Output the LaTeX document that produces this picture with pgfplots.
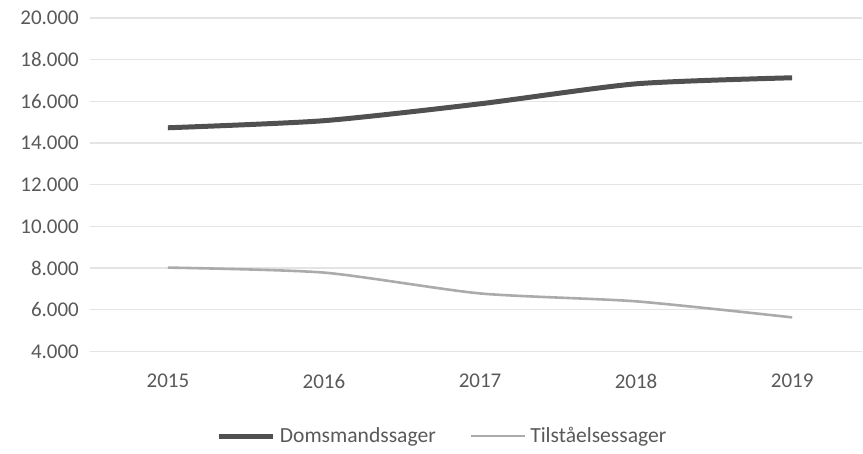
\documentclass[border=0pt]{standalone}
\usepackage{fontspec}
\setmainfont{Carlito}
\usepackage{pgfplots}
\pgfplotsset{compat=1.18}
\definecolor{domline}{HTML}{505050}
\definecolor{tilline}{HTML}{ABABAB}
\definecolor{ticktxt}{HTML}{595959}
\definecolor{gridc}{HTML}{E4E4E4}

\begin{document}
\begin{tikzpicture}
\begin{axis}[scale only axis, width=387pt, height=167pt,
  xmin=2014.5, xmax=2019.45, ymin=4000, ymax=20000,
  xtick={2015,2016,2017,2018,2019}, ytick={4000,6000,...,20000},
  scaled ticks=false,
  xticklabel style={/pgf/number format/1000 sep={}},
  yticklabel style={/pgf/number format/1000 sep={.}, /pgf/number format/fixed},
  /pgf/number format/assume math mode=true,
  tick label style={font=\fontsize{10.5}{12}\selectfont, text=ticktxt},
  xticklabel style={yshift=-8pt},
  yticklabel style={xshift=-2pt},
  axis line style={draw=none}, major tick length=0pt,
  ymajorgrids, grid style={gridc, line width=0.6pt},
  clip=false,
  legend style={at={(0.458,-0.254)}, anchor=center, draw=none, fill=none,
    legend columns=2, font=\fontsize{10.8}{12}\selectfont, text=ticktxt,
    /tikz/every even column/.append style={column sep=15pt}},
  legend cell align=left,
  legend image code/.code={\draw[#1] (0cm,0cm) -- (0.95cm,0cm);}]
\addplot[domline, line width=2.5pt, smooth, tension=0.4] coordinates {
  (2015,14730) (2016,15070) (2017,15880) (2018,16840) (2019,17130)};
\addlegendentry{Domsmandssager}
\addplot[tilline, line width=1.3pt, smooth, tension=0.4] coordinates {
  (2015,8020) (2016,7780) (2017,6780) (2018,6400) (2019,5630)};
\addlegendentry{Tilståelsessager}
\path (axis description cs:-0.1163,1.0539) rectangle (axis description cs:1.0,-0.2904);
\end{axis}
\end{tikzpicture}
\end{document}
